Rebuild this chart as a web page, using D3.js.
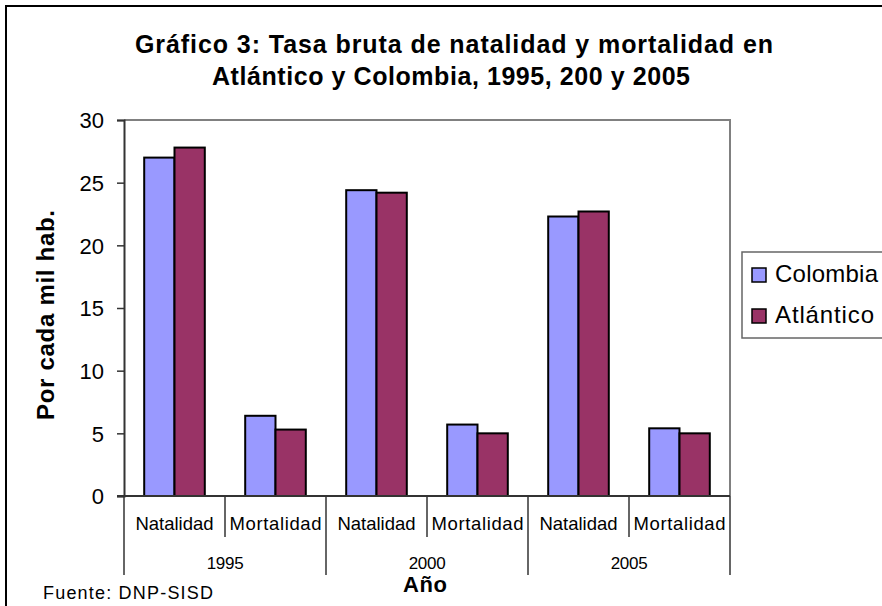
<!DOCTYPE html>
<html><head><meta charset="utf-8">
<script src="https://cdn.jsdelivr.net/npm/d3@7"></script>
<style>body{margin:0;background:#fff}svg{display:block;font-family:"Liberation Sans",Arial,sans-serif}</style>
</head><body><svg id="c" width="882" height="606"></svg>
<script>
const years = ["1995", "2000", "2005"];
const indicators = ["Natalidad", "Mortalidad"];
const seriesNames = ["Colombia", "Atlántico"];
const colombia = [27.0, 6.4, 24.4, 5.7, 22.3, 5.4];
const atlantico = [27.8, 5.3, 24.2, 5.0, 22.7, 5.0];
const yTicks = [0, 5, 10, 15, 20, 25, 30];
const colors = ["#9999FF", "#993366"];

const svg = d3.select("#c");
const m = {l: 124, r: 730, t: 120, b: 496};
const cats = [];
years.forEach(y => indicators.forEach(i => cats.push(y + "|" + i)));

const x = d3.scaleBand().domain(cats).range([m.l, m.r]);
const y = d3.scaleLinear().domain([0, 30]).range([m.b, m.t]);

// outer frame
svg.append("rect").attr("x", 6).attr("y", 6).attr("width", 900).attr("height", 640)
  .attr("fill", "none").attr("stroke", "#000").attr("stroke-width", 2);

// plot border
svg.append("path").attr("d", `M${m.l},${m.t}H${m.r}V${m.b}`).attr("fill", "none").attr("stroke", "#808080").attr("stroke-width", 2);

// bars
const data = cats.map((c, i) => ({c, vals: [colombia[i], atlantico[i]]}));
const bw = x.bandwidth() * 0.3;
const g = svg.append("g");
data.forEach(d => {
  d.vals.forEach((v, j) => {
    const x0 = x(d.c) + x.bandwidth() * 0.2 + j * bw;
    g.append("rect").attr("x", x0).attr("y", y(v)).attr("width", bw).attr("height", y(0) - y(v))
      .attr("fill", colors[j]).attr("stroke", "#000").attr("stroke-width", 2);
  });
});

// y axis
const ya = svg.append("g").attr("transform", `translate(${m.l},0)`)
  .call(d3.axisLeft(y).tickValues(yTicks).tickSize(7).tickPadding(13));
ya.select(".domain").attr("stroke", "#333").attr("stroke-width", 2);
ya.selectAll(".tick line").attr("stroke", "#333").attr("stroke-width", 1.5);
ya.selectAll(".tick text").attr("font-size", 22).attr("fill", "#000").attr("font-family", "Liberation Sans, Arial").attr("dy", "0.35em");

// x axis line
svg.append("line").attr("x1", m.l - 7).attr("x2", m.r).attr("y1", m.b).attr("y2", m.b).attr("stroke", "#333").attr("stroke-width", 2);

// separators
cats.forEach((c, i) => {
  const xx = x(c);
  const long = i % 2 === 0;
  svg.append("line").attr("x1", xx).attr("x2", xx).attr("y1", m.b).attr("y2", long ? 575 : 537).attr("stroke", "#333").attr("stroke-width", 1.5);
});
svg.append("line").attr("x1", m.r).attr("x2", m.r).attr("y1", m.b).attr("y2", 575).attr("stroke", "#333").attr("stroke-width", 1.5);

// category labels
svg.append("g").selectAll("text").data(cats).join("text")
  .attr("x", d => x(d) + x.bandwidth() / 2).attr("y", 530).attr("text-anchor", "middle")
  .attr("font-size", 18.5)
  .attr("textLength", d => d.endsWith("Natalidad") ? 78 : 92).attr("lengthAdjust", "spacing")
  .text(d => d.split("|")[1]);

// year labels
svg.append("g").selectAll("text").data(years).join("text")
  .attr("x", d => x(d + "|Natalidad") + x.bandwidth()).attr("y", 569).attr("text-anchor", "middle")
  .attr("font-size", 17).attr("letter-spacing", -0.3).text(d => d);

// axis titles
svg.append("text").attr("x", 425).attr("y", 592).attr("text-anchor", "middle").attr("font-size", 22).attr("font-weight", "bold")
  .attr("textLength", 44).attr("lengthAdjust", "spacing").text("Año");
svg.append("text").attr("transform", "translate(54,315) rotate(-90)").attr("text-anchor", "middle")
  .attr("font-size", 24).attr("font-weight", "bold").attr("textLength", 210).attr("lengthAdjust", "spacing").text("Por cada mil hab.");

// title
svg.append("text").attr("x", 454).attr("y", 53).attr("text-anchor", "middle").attr("font-size", 25).attr("font-weight", "bold")
  .attr("textLength", 638).attr("lengthAdjust", "spacing")
  .text("Gráfico 3: Tasa bruta de natalidad y mortalidad en");
svg.append("text").attr("x", 451).attr("y", 85).attr("text-anchor", "middle").attr("font-size", 25).attr("font-weight", "bold")
  .attr("textLength", 478).attr("lengthAdjust", "spacing")
  .text("Atlántico y Colombia, 1995, 200 y 2005");

// source
svg.append("text").attr("x", 43).attr("y", 599).attr("font-size", 18).attr("textLength", 170).attr("lengthAdjust", "spacing").text("Fuente: DNP-SISD");

// legend
svg.append("rect").attr("x", 742).attr("y", 252).attr("width", 160).attr("height", 86).attr("fill", "#fff").attr("stroke", "#666").attr("stroke-width", 1.5);
seriesNames.forEach((s, j) => {
  const yy = 268 + j * 41;
  svg.append("rect").attr("x", 752).attr("y", yy).attr("width", 14).attr("height", 14).attr("fill", colors[j]).attr("stroke", "#000").attr("stroke-width", 1.5);
  svg.append("text").attr("x", 775).attr("y", yy + 14).attr("font-size", 24)
    .attr("textLength", j === 0 ? 103 : 99).attr("lengthAdjust", "spacing").text(s);
});
</script></body></html>
